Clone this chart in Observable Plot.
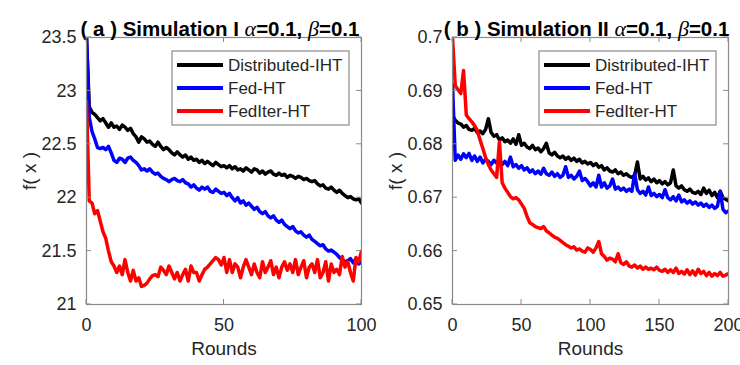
<!DOCTYPE html>
<html><head><meta charset="utf-8">
<script src="https://cdn.jsdelivr.net/npm/d3@7"></script>
<script src="https://cdn.jsdelivr.net/npm/@observablehq/plot@0.6"></script>
<style>
body{margin:0;background:#fff;}
#wrap{position:relative;width:740px;height:365px;overflow:hidden;background:#fff;}
#wrap svg{position:absolute;top:0;overflow:visible;}
</style></head><body><div id="wrap"></div>
<script>
const seriesNames = ["Distributed-IHT", "Fed-HT", "FedIter-HT"];
const seriesColors = ["#000000", "#0000ff", "#ff0000"];

const titleA = ["( a ) Simulation I ", "α", "=0.1, ", "β", "=0.1"];
const titleB = ["( b ) Simulation II ", "α", "=0.1, ", "β", "=0.1"];
const xLabel = "Rounds";
const yLabel = "f( x )";

const xTicksA = [0, 50, 100];
const yTicksA = [21, 21.5, 22, 22.5, 23, 23.5];
const xTicksB = [0, 50, 100, 150, 200];
const yTicksB = [0.65, 0.66, 0.67, 0.68, 0.69, 0.7];

const roundsA = [0,1,2,3,4,5,6,7,8,9,10,11,12,13,14,15,16,17,18,19,20,21,22,23,24,25,26,27,28,29,30,31,32,33,34,35,36,37,38,39,40,41,42,43,44,45,46,47,48,49,50,51,52,53,54,55,56,57,58,59,60,61,62,63,64,65,66,67,68,69,70,71,72,73,74,75,76,77,78,79,80,81,82,83,84,85,86,87,88,89,90,91,92,93,94,95,96,97,98,99,100];
const distA = [23.50,22.85,22.80,22.78,22.75,22.72,22.74,22.70,22.66,22.70,22.66,22.67,22.64,22.68,22.66,22.63,22.65,22.60,22.57,22.52,22.57,22.55,22.52,22.53,22.50,22.48,22.52,22.48,22.45,22.47,22.45,22.42,22.40,22.43,22.40,22.38,22.40,22.36,22.38,22.35,22.36,22.33,22.35,22.32,22.34,22.32,22.30,22.33,22.31,22.29,22.30,22.28,22.30,22.27,22.29,22.26,22.27,22.25,22.28,22.26,22.24,22.27,22.26,22.23,22.25,22.22,22.24,22.25,22.22,22.21,22.23,22.21,22.22,22.19,22.21,22.20,22.18,22.20,22.19,22.17,22.18,22.16,22.15,22.16,22.13,22.11,22.12,22.09,22.08,22.10,22.07,22.05,22.07,22.04,22.02,22.00,22.01,21.99,21.98,21.99,21.95];
const fedA = [23.50,22.75,22.62,22.55,22.47,22.46,22.47,22.45,22.48,22.42,22.35,22.33,22.37,22.36,22.33,22.37,22.38,22.35,22.33,22.30,22.26,22.27,22.25,22.27,22.24,22.22,22.23,22.20,22.18,22.17,22.15,22.17,22.18,22.16,22.15,22.17,22.14,22.13,22.10,22.12,22.09,22.07,22.10,22.08,22.10,22.06,22.05,22.08,22.06,22.04,22.05,22.02,22.04,22.00,21.97,22.00,21.95,21.97,21.93,21.95,21.92,21.89,21.91,21.87,21.85,21.87,21.83,21.81,21.83,21.79,21.77,21.79,21.75,21.73,21.71,21.73,21.69,21.67,21.68,21.65,21.63,21.65,21.61,21.59,21.57,21.55,21.56,21.52,21.50,21.51,21.49,21.47,21.44,21.42,21.40,21.41,21.43,21.39,21.43,21.38,21.40];
const iterA = [22.90,21.97,21.95,21.85,21.88,21.78,21.68,21.62,21.50,21.40,21.36,21.30,21.36,21.28,21.42,21.30,21.22,21.32,21.22,21.25,21.17,21.18,21.20,21.24,21.27,21.28,21.26,21.35,21.32,21.28,21.36,21.30,21.24,21.30,21.22,21.28,21.33,21.22,21.36,21.30,21.30,21.22,21.28,21.33,21.35,21.38,21.41,21.44,21.42,21.37,21.44,21.30,21.42,21.30,21.38,21.35,21.25,21.35,21.42,21.35,21.28,21.38,21.30,21.25,21.40,21.30,21.35,21.41,21.28,21.35,21.25,21.35,21.40,21.32,21.38,21.30,21.42,21.28,21.35,21.41,21.25,21.35,21.38,21.30,21.42,21.25,21.30,21.40,21.22,21.38,21.30,21.33,21.28,21.45,21.35,21.40,21.30,21.22,21.44,21.40,21.50];

const roundsB = [0,2,4,6,8,10,12,14,16,18,20,22,24,26,28,30,32,34,36,38,40,42,44,46,48,50,52,54,56,58,60,62,64,66,68,70,72,74,76,78,80,82,84,86,88,90,92,94,96,98,100,102,104,106,108,110,112,114,116,118,120,122,124,126,128,130,132,134,136,138,140,142,144,146,148,150,152,154,156,158,160,162,164,166,168,170,172,174,176,178,180,182,184,186,188,190,192,194,196,198,200];
const distB = [0.6855,0.6845,0.6840,0.6838,0.6832,0.6835,0.6828,0.6826,0.6830,0.6822,0.6825,0.6820,0.6828,0.6848,0.6822,0.6815,0.6818,0.6808,0.6812,0.6805,0.6808,0.6802,0.6810,0.6800,0.6818,0.6798,0.6802,0.6795,0.6792,0.6798,0.6790,0.6793,0.6786,0.6792,0.6802,0.6784,0.6780,0.6785,0.6778,0.6775,0.6778,0.6772,0.6776,0.6770,0.6774,0.6768,0.6772,0.6765,0.6768,0.6763,0.6766,0.6760,0.6764,0.6757,0.6760,0.6752,0.6756,0.6750,0.6748,0.6752,0.6745,0.6748,0.6742,0.6745,0.6740,0.6738,0.6742,0.6767,0.6735,0.6740,0.6733,0.6737,0.6730,0.6735,0.6728,0.6732,0.6726,0.6730,0.6724,0.6728,0.6752,0.6722,0.6718,0.6722,0.6715,0.6712,0.6716,0.6710,0.6708,0.6712,0.6706,0.6718,0.6708,0.6714,0.6704,0.6710,0.6700,0.6712,0.6700,0.6697,0.6694];
const fedB = [0.6912,0.6770,0.6780,0.6772,0.6782,0.6775,0.6783,0.6770,0.6778,0.6768,0.6776,0.6765,0.6772,0.6768,0.6762,0.6770,0.6765,0.6772,0.6762,0.6768,0.6760,0.6776,0.6758,0.6762,0.6755,0.6760,0.6752,0.6756,0.6748,0.6752,0.6745,0.6750,0.6744,0.6755,0.6745,0.6742,0.6748,0.6740,0.6745,0.6738,0.6742,0.6758,0.6738,0.6742,0.6735,0.6740,0.6750,0.6732,0.6736,0.6730,0.6722,0.6728,0.6720,0.6742,0.6720,0.6728,0.6718,0.6722,0.6735,0.6716,0.6720,0.6714,0.6718,0.6712,0.6716,0.6712,0.6745,0.6715,0.6708,0.6712,0.6705,0.6720,0.6704,0.6708,0.6702,0.6706,0.6700,0.6715,0.6700,0.6696,0.6702,0.6694,0.6705,0.6692,0.6696,0.6690,0.6694,0.6688,0.6692,0.6686,0.6690,0.6684,0.6688,0.6682,0.6686,0.6680,0.6684,0.6712,0.6678,0.6672,0.6675];
const iterB = [0.7000,0.6910,0.6902,0.6895,0.6938,0.6855,0.6848,0.6842,0.6835,0.6826,0.6808,0.6792,0.6775,0.6762,0.6752,0.6745,0.6738,0.6805,0.6728,0.6718,0.6710,0.6702,0.6698,0.6700,0.6696,0.6688,0.6680,0.6665,0.6653,0.6650,0.6646,0.6644,0.6642,0.6646,0.6638,0.6634,0.6630,0.6626,0.6624,0.6620,0.6616,0.6612,0.6609,0.6606,0.6608,0.6602,0.6604,0.6600,0.6598,0.6606,0.6603,0.6598,0.6606,0.6618,0.6595,0.6590,0.6583,0.6587,0.6585,0.6580,0.6595,0.6578,0.6575,0.6580,0.6572,0.6570,0.6574,0.6568,0.6572,0.6566,0.6570,0.6566,0.6568,0.6565,0.6570,0.6564,0.6562,0.6566,0.6560,0.6565,0.6560,0.6568,0.6558,0.6562,0.6557,0.6565,0.6556,0.6563,0.6555,0.6566,0.6558,0.6562,0.6554,0.6560,0.6553,0.6558,0.6554,0.6560,0.6553,0.6555,0.6558];

const FONT = "'Liberation Sans', Arial, Helvetica, sans-serif";
const FRAME = "#8a8a8a";
const TEXT = "#262626";

function panel({rounds, series, xDomain, yDomain, xTicks, yTicks, title, left, mL, mR}) {
  const W = 370, H = 365, mT = 37, mB = 61;
  const data = [];
  series.forEach((vals, k) => vals.forEach((v, i) => data.push({round: rounds[i], value: v, name: seriesNames[k]})));
  const fmt = d3.format("~g");
  const p = Plot.plot({
    width: W, height: H, marginLeft: mL, marginRight: mR, marginTop: mT, marginBottom: mB,
    style: {fontFamily: FONT, fontSize: "18px", color: TEXT, background: "transparent", overflow: "visible"},
    x: {domain: xDomain},
    y: {domain: yDomain},
    color: {domain: seriesNames, range: seriesColors},
    marks: [
      Plot.axisX(xTicks, {anchor: "bottom", tickSize: 0, tickPadding: 14, tickFormat: fmt, fontSize: 18, label: xLabel, labelAnchor: "center", labelArrow: "none", labelOffset: 50}),
      Plot.axisY(yTicks, {anchor: "left", tickSize: 0, tickPadding: 10, tickFormat: fmt, fontSize: 18, label: yLabel, labelAnchor: "center", labelArrow: "none", labelOffset: 64}),
      Plot.lineY(data, {x: "round", y: "value", stroke: "name", strokeWidth: 3.5, clip: true, strokeLinejoin: "round"}),
      Plot.frame({stroke: FRAME, strokeWidth: 1.2}),
      Plot.text([title.join("")], {frameAnchor: "top", lineAnchor: "bottom", dy: -2, dx: -4, fontWeight: "bold", fontSize: 20.5, fill: "#000"})
    ]
  });
  const svg = d3.select(p);
  svg.selectAll('g[aria-label$="tick label"]').attr("font-size", 18);
  svg.selectAll('g[aria-label$="axis label"]').attr("font-size", 19).selectAll("text").attr("font-size", 19);
  // inward tick marks on all four sides, placed with the plot's own scales
  const sx = p.scale("x"), sy = p.scale("y");
  const x0 = mL, x1 = W - mR, y0 = mT, y1 = H - mB, tl = 5;
  const tg = svg.append("g").attr("stroke", FRAME).attr("stroke-width", 1);
  xTicks.forEach(t => {
    const x = sx.apply(t);
    tg.append("line").attr("x1", x).attr("x2", x).attr("y1", y1).attr("y2", y1 - tl);
    tg.append("line").attr("x1", x).attr("x2", x).attr("y1", y0).attr("y2", y0 + tl);
  });
  yTicks.forEach(t => {
    const y = sy.apply(t);
    tg.append("line").attr("x1", x0).attr("x2", x0 + tl).attr("y1", y).attr("y2", y);
    tg.append("line").attr("x1", x1).attr("x2", x1 - tl).attr("y1", y).attr("y2", y);
  });
  // title: Greek letters in italic serif, as in the original
  svg.selectAll("text").filter(function() { return this.textContent === title.join(""); })
    .each(function() {
      const t = d3.select(this);
      t.text(null);
      title.forEach(part => {
        const greek = part === "α" || part === "β";
        t.append("tspan").text(part)
          .attr("font-family", greek ? "'Liberation Serif', 'DejaVu Serif', serif" : null)
          .attr("font-style", greek ? "italic" : null)
          .attr("font-weight", greek ? "normal" : null)
          .attr("font-size", greek ? 22 : null);
      });
    });
  // legend box inside the axes, top-right
  const bx = W - mR - 189, by = 51, bw = 177, bh = 74;
  const g = svg.append("g").attr("font-family", FONT).attr("font-size", 17).attr("text-anchor", "start");
  g.append("rect").attr("x", bx).attr("y", by).attr("width", bw).attr("height", bh)
    .attr("fill", "#fff").attr("stroke", FRAME).attr("stroke-width", 1.2);
  seriesNames.forEach((name, i) => {
    const yy = by + 14 + i * 23;
    g.append("line").attr("x1", bx + 5).attr("x2", bx + 51).attr("y1", yy).attr("y2", yy)
      .attr("stroke", seriesColors[i]).attr("stroke-width", 4);
    g.append("text").attr("x", bx + 56).attr("y", yy).attr("dy", "0.35em").attr("fill", TEXT)
      .attr("text-anchor", "start").text(name);
  });
  p.style.left = left + "px";
  return p;
}

const wrap = document.getElementById("wrap");
wrap.appendChild(panel({rounds: roundsA, series: [distA, fedA, iterA], xDomain: [0, 100], yDomain: [21, 23.5],
  xTicks: xTicksA, yTicks: yTicksA, title: titleA, left: 0, mL: 86, mR: 9}));
wrap.appendChild(panel({rounds: roundsB, series: [distB, fedB, iterB], xDomain: [0, 200], yDomain: [0.65, 0.7],
  xTicks: xTicksB, yTicks: yTicksB, title: titleB, left: 370, mL: 82, mR: 12}));
</script></body></html>
